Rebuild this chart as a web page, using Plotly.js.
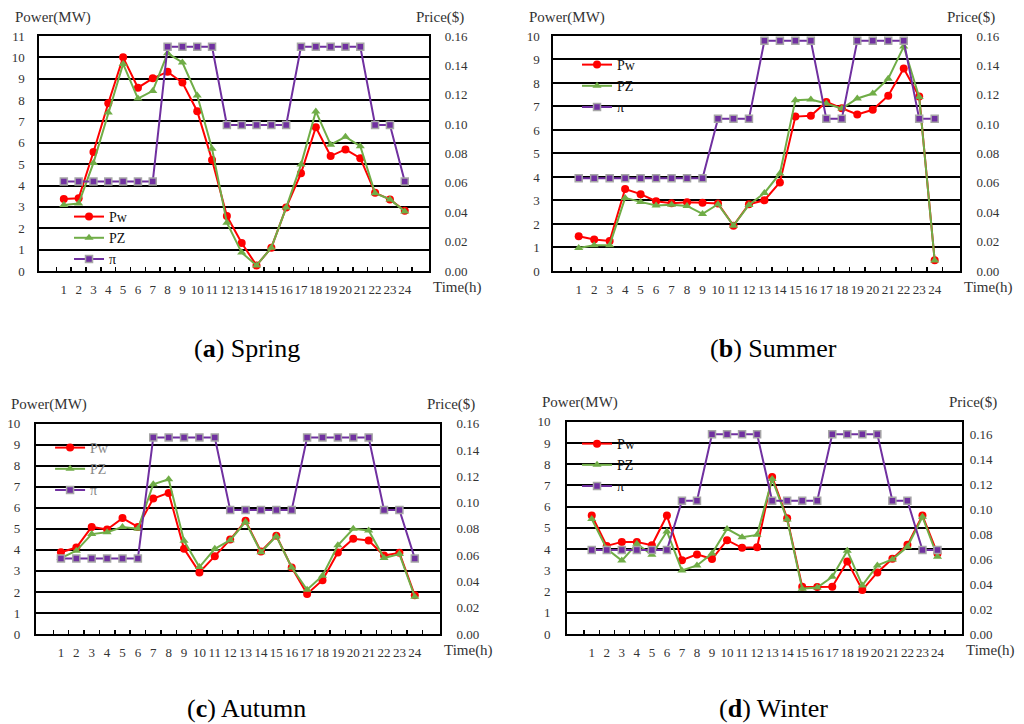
<!DOCTYPE html>
<html>
<head>
<meta charset="utf-8">
<script src="https://cdn.plot.ly/plotly-3.0.1.min.js"></script>
<style>html,body{margin:0;padding:0;background:#fff;}#chart{width:1024px;height:724px;}</style>
</head>
<body>
<div id="chart"></div>
<script>
// ---- data ----
const hours = ['1','2','3','4','5','6','7','8','9','10','11','12','13','14','15','16','17','18','19','20','21','22','23','24'];

const springPw = [3.37,3.40,5.57,7.85,10.0,8.58,9.02,9.32,8.82,7.48,5.19,2.57,1.31,0.26,1.09,2.97,4.57,6.73,5.38,5.69,5.28,3.66,3.35,2.82];
const springPZ = [3.09,3.16,5.06,7.42,9.69,8.07,8.43,10.19,9.76,8.21,5.72,2.26,0.86,0.26,1.09,2.97,4.98,7.47,5.91,6.28,5.84,3.64,3.35,2.79];
const springPi = [0.061,0.061,0.061,0.061,0.061,0.061,0.061,0.1527,0.1527,0.1527,0.1527,0.0994,0.0994,0.0994,0.0994,0.0994,0.1527,0.1527,0.1527,0.1527,0.1527,0.0994,0.0994,0.061];

const summerPw = [1.48,1.34,1.28,3.49,3.27,2.97,2.88,2.93,2.90,2.87,1.93,2.84,3.01,3.77,6.57,6.61,7.19,6.93,6.66,6.86,7.46,8.62,7.42,0.46];
const summerPZ = [0.98,1.09,1.10,3.11,2.94,2.79,2.82,2.77,2.43,2.84,1.93,2.81,3.32,4.15,7.27,7.30,7.13,6.91,7.34,7.55,8.18,9.55,7.40,0.45];
const summerPi = [0.0632,0.0632,0.0632,0.0632,0.0632,0.0632,0.0632,0.0632,0.0632,0.1036,0.1036,0.1036,0.1568,0.1568,0.1568,0.1568,0.1036,0.1036,0.1568,0.1568,0.1568,0.1568,0.1036,0.1036];

const autumnPw = [3.89,4.11,5.09,4.97,5.51,5.09,6.44,6.71,4.05,2.93,3.70,4.49,5.38,3.92,4.67,3.16,1.90,2.56,3.88,4.53,4.45,3.73,3.86,1.84];
const autumnPZ = [3.61,3.96,4.75,4.84,5.09,5.00,7.12,7.36,4.43,3.18,4.05,4.46,5.33,3.89,4.65,3.16,2.10,2.77,4.22,5.00,4.92,3.61,3.80,1.77];
const autumnPi = [0.0575,0.0575,0.0575,0.0575,0.0575,0.0575,0.1494,0.1494,0.1494,0.1494,0.1494,0.0944,0.0944,0.0944,0.0944,0.0944,0.1494,0.1494,0.1494,0.1494,0.1494,0.0944,0.0944,0.0575];

const winterPw = [5.58,4.15,4.34,4.34,4.18,5.58,3.48,3.75,3.53,4.42,4.06,4.09,7.40,5.45,2.23,2.21,2.23,3.42,2.07,2.90,3.54,4.20,5.58,3.79];
const winterPZ = [5.42,4.01,3.46,4.25,3.73,4.83,2.99,3.23,3.79,4.95,4.56,4.67,7.30,5.39,2.13,2.19,2.70,3.92,2.29,3.23,3.51,4.11,5.52,3.64];
const winterPi = [0.0672,0.0672,0.0672,0.0672,0.0672,0.0672,0.1067,0.1067,0.16,0.16,0.16,0.16,0.1067,0.1067,0.1067,0.1067,0.16,0.16,0.16,0.16,0.1067,0.1067,0.0672,0.0672];

const seriesNames = ['Pw','PZ','π'];
const captions = ['(<b>a</b>) Spring','(<b>b</b>) Summer','(<b>c</b>) Autumn','(<b>d</b>) Winter'];

// ---- styling ----
const FONT = 'Liberation Serif, Times New Roman, serif';
const RED = '#ff0000', GREEN = '#70ad47', PURPLE = '#7030a0';

const panels = [
  {pw: springPw, pz: springPZ, pi: springPi, xd:[0.0384,0.4192], yd:[0.6257,0.9503], yr:[0,11], y2r:[0,0.16],
   leg:{x:0.0674, y:0.7224}, legColor:'#111', y2stand:11, ystand:10},
  {pw: summerPw, pz: summerPZ, pi: summerPi, xd:[0.5404,0.9375], yd:[0.6257,0.9503], yr:[0,10], y2r:[0,0.16],
   leg:{x:0.5635, y:0.9323}, legColor:'#111', y2stand:12, ystand:9},
  {pw: autumnPw, pz: autumnPZ, pi: autumnPi, xd:[0.0349,0.4297], yd:[0.1243,0.4148], yr:[0,10], y2r:[0,0.16],
   leg:{x:0.0489, y:0.4033}, legColor:'#888', y2stand:12, ystand:11},
  {pw: winterPw, pz: winterPZ, pi: winterPi, xd:[0.5537,0.9397], yd:[0.1243,0.4175], yr:[0,10], y2r:[0,0.17],
   leg:{x:0.5635, y:0.4088}, legColor:'#111', y2stand:3, ystand:12}
];

const data = [];
const layout = {
  width:1024, height:724,
  margin:{l:0,r:0,t:0,b:0},
  paper_bgcolor:'#fff', plot_bgcolor:'#fff',
  font:{family:FONT, size:13, color:'#333'},
  showlegend:true,
  annotations:[]
};

panels.forEach((p, i) => {
  const n = i + 1;
  const xName = n === 1 ? 'x' : 'x' + n;
  const yA = 2*i + 1, yB = 2*i + 2;
  const yName = yA === 1 ? 'y' : 'y' + yA;
  const y2Name = 'y' + yB;
  const legName = n === 1 ? 'legend' : 'legend' + n;

  data.push({x:hours, y:p.pw, name:seriesNames[0], type:'scatter', mode:'lines+markers',
    xaxis:xName, yaxis:yName, legend:legName,
    line:{color:RED, width:2}, marker:{symbol:'circle', size:8, color:RED}});
  data.push({x:hours, y:p.pz, name:seriesNames[1], type:'scatter', mode:'lines+markers',
    xaxis:xName, yaxis:yName, legend:legName,
    line:{color:GREEN, width:2}, marker:{symbol:'triangle-up', size:8, color:GREEN}});
  data.push({x:hours, y:p.pi, name:seriesNames[2], type:'scatter', mode:'lines+markers',
    xaxis:xName, yaxis:y2Name, legend:legName,
    line:{color:PURPLE, width:2}, marker:{symbol:'square', size:7, color:PURPLE, line:{color:'#a6a6a6', width:1.5}}});

  layout[(n === 1 ? 'xaxis' : 'xaxis' + n)] = {
    domain:p.xd, anchor:yName, type:'category',
    showline:true, linecolor:'#000', linewidth:2, mirror:true,
    showgrid:false, zeroline:false,
    tickmode:'linear', tick0:0, dtick:1,
    ticks:'inside', tickson:'boundaries', ticklen:4, tickwidth:1.5, tickcolor:'#000',
    tickangle:0,
    tickfont:{family:FONT, size:13, color:'#333'}, ticklabelstandoff:5,
    fixedrange:true
  };
  layout[(yA === 1 ? 'yaxis' : 'yaxis' + yA)] = {
    domain:p.yd, anchor:xName, range:p.yr, dtick:1, tick0:0,
    showline:true, linecolor:'#000', linewidth:2,
    showgrid:true, gridcolor:'#000', gridwidth:2, zeroline:false,
    ticks:'', tickfont:{family:FONT, size:13, color:'#333'}, ticklabelstandoff:p.ystand,
    fixedrange:true
  };
  layout['yaxis' + yB] = {
    overlaying:yName, anchor:xName, side:'right', range:p.y2r, dtick:0.02, tick0:0,
    tickformat:'.2f', showline:true, linecolor:'#000', linewidth:2,
    showgrid:false, zeroline:false, ticks:'',
    tickfont:{family:FONT, size:13, color:'#333'}, ticklabelstandoff:p.y2stand,
    fixedrange:true
  };
  layout[legName] = {
    x:p.leg.x, y:p.leg.y, xanchor:'left', yanchor:'top',
    bgcolor:'rgba(0,0,0,0)', borderwidth:0,
    font:{family:FONT, size:14, color:p.legColor},
    tracegroupgap:0
  };

  const xl = p.xd[0], xr = p.xd[1], yt = p.yd[1], yb = p.yd[0];
  layout.annotations.push({text:'Power(MW)', xref:'paper', yref:'paper', x:xl - 0.026, y:yt + 0.026,
    xanchor:'left', yanchor:'middle', showarrow:false, font:{family:FONT, size:15, color:'#333'}});
  layout.annotations.push({text:'Price($)', xref:'paper', yref:'paper', x:xr + 0.036, y:yt + 0.026,
    xanchor:'right', yanchor:'middle', showarrow:false, font:{family:FONT, size:15, color:'#333'}});
  layout.annotations.push({text:'Time(h)', xref:'paper', yref:'paper', x:xr + 0.002, y:yb - 0.023,
    xanchor:'left', yanchor:'middle', showarrow:false, font:{family:FONT, size:15, color:'#333'}});
  layout.annotations.push({text:captions[i], xref:'paper', yref:'paper',
    x:(i % 2 === 0) ? 0.2412 : 0.7549, y:(i < 2) ? 1 - 348/724 : 1 - 708/724,
    xanchor:'center', yanchor:'middle', showarrow:false, font:{family:FONT, size:26, color:'#000'}});
});

Plotly.newPlot('chart', data, layout, {displayModeBar:false, staticPlot:true});
</script>
</body>
</html>
